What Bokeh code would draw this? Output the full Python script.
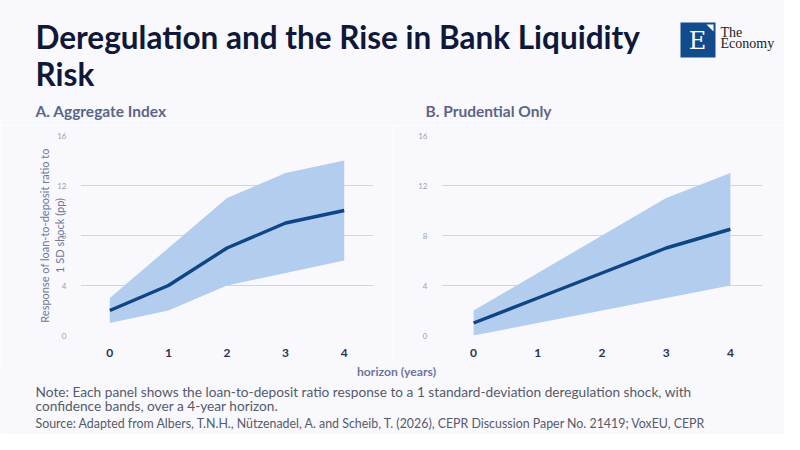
from bokeh.plotting import figure
from bokeh.layouts import column, row
from bokeh.models import Range1d, FixedTicker, ColumnDataSource
from bokeh.core.properties import value
from bokeh.embed import file_html
from bokeh.resources import INLINE

# ---- data ----
horizon = [0, 1, 2, 3, 4]
a_mean = [2, 4, 7, 9, 10]
a_upper = [3, 7, 11, 13, 14]
a_lower = [1, 2, 4, 5, 6]
b_mean = [1, 3, 5, 7, 8.5]
b_upper = [2, 5, 8, 11, 13]
b_lower = [0, 1, 2, 3, 4]
y_ticks = [0, 4, 8, 12, 16]

title_lines = ["Deregulation and the Rise in Bank Liquidity", "Risk"]
panel_titles = ["A. Aggregate Index", "B. Prudential Only"]
y_label = "Response of loan-to-deposit ratio to\n1 SD shock (pp)"
x_label = "horizon (years)"
note_lines = ["Note: Each panel shows the loan-to-deposit ratio response to a 1 standard-deviation deregulation shock, with",
              "confidence bands, over a 4-year horizon."]
source_line = "Source: Adapted from Albers, T.N.H., Nützenadel, A. and Scheib, T. (2026), CEPR Discussion Paper No. 21419; VoxEU, CEPR"

BG = "#f8f8fd"
FONT = "Lato"
TITLE_C = "#0f1838"
SUB_C = "#5b6686"
TICK_C = "#9aa1b9"
GRID_C = "#d0d5e5"
BAND_C = "#b3cdef"
LINE_C = "#0e4584"


def blank(height, y0, y1):
    f = figure(width=784, height=height, x_range=Range1d(0, 784), y_range=Range1d(y1, y0),
               output_backend="svg", toolbar_location=None, min_border=0)
    f.axis.visible = False
    f.grid.visible = False
    f.outline_line_color = None
    f.background_fill_color = BG
    f.border_fill_color = BG
    return f


# ---- header ----
head = blank(125, 0, 125)
head.text(x=[35, 35], y=[36, 73], text=title_lines, text_font=value(FONT), text_font_style="bold",
          text_font_size="31.5px", text_color=TITLE_C, text_baseline="alphabetic")
head.text(x=[35, 425], y=[110, 110], text=panel_titles, text_font=value(FONT), text_font_style="bold",
          text_font_size="15.5px", text_color=SUB_C, text_baseline="alphabetic")
# logo
head.quad(left=[680], right=[715], top=[22], bottom=[57], fill_color="#134a8c", line_color=None)
head.patch(x=[706, 713, 713], y=[24, 24, 31], fill_color="white", line_color=None)
head.text(x=[697], y=[40], text=["E"], text_font=value("DejaVu Serif"), text_font_size="24px",
          text_color="white", text_align="center", text_baseline="alphabetic")
head.text(x=[720, 720], y=[32, 43], text=["The", "Economy"], text_font=value("Liberation Serif"),
          text_font_size="14px", text_color="#222222", text_baseline="alphabetic")


def panel(mean, upper, lower, left, fw, right, ylab):
    p = figure(frame_width=fw, frame_height=200, x_range=Range1d(-0.5, 4.5), y_range=Range1d(0, 16),
               output_backend="svg", toolbar_location=None,
               min_border_left=left, min_border_right=right, min_border_top=10, min_border_bottom=27)
    src = ColumnDataSource(dict(x=horizon, m=mean, u=upper, l=lower))
    p.varea(x="x", y1="l", y2="u", source=src, fill_color=BAND_C, fill_alpha=1.0)
    p.line(x="x", y="m", source=src, line_color=LINE_C, line_width=3.4)
    p.background_fill_color = BG
    p.border_fill_color = BG
    p.outline_line_color = None
    p.xgrid.visible = False
    p.ygrid.grid_line_color = GRID_C
    p.ygrid.grid_line_width = 1
    p.yaxis.ticker = FixedTicker(ticks=y_ticks)
    p.xaxis.ticker = FixedTicker(ticks=horizon)
    for ax in (p.xaxis, p.yaxis):
        ax.axis_line_color = None
        ax.major_tick_line_color = None
        ax.minor_tick_line_color = None
    p.yaxis.major_label_text_font = FONT
    p.yaxis.major_label_text_font_size = "8px"
    p.yaxis.major_label_text_color = TICK_C
    p.yaxis.major_label_standoff = 8
    p.xaxis.major_label_text_font = FONT
    p.xaxis.major_label_text_font_size = "12px"
    p.xaxis.major_label_text_font_style = "bold"
    p.xaxis.major_label_text_color = "#2a3352"
    p.xaxis.major_label_standoff = 7
    if ylab:
        p.yaxis.axis_label = ylab
        p.yaxis.axis_label_text_font = FONT
        p.yaxis.axis_label_text_font_size = "11px"
        p.yaxis.axis_label_text_font_style = "normal"
        p.yaxis.axis_label_text_color = "#6d7797"
        p.yaxis.axis_label_standoff = -12
    return p


pa = panel(a_mean, a_upper, a_lower, 80, 293, 19, y_label)
pb = panel(b_mean, b_upper, b_lower, 49, 321, 22, None)

# ---- footer ----
foot = blank(72, 362, 434)
foot.text(x=[396], y=[371], text=[x_label], text_font=value(FONT), text_font_style="bold",
          text_font_size="12.2px", text_color="#6b7597", text_align="center", text_baseline="alphabetic")
foot.text(x=[35, 35], y=[391, 405], text=note_lines, text_font=value(FONT), text_font_size="13.7px",
          text_color="#555b68", text_baseline="alphabetic")
foot.text(x=[35], y=[423], text=[source_line], text_font=value(FONT), text_font_size="12.4px",
          text_color="#555b68", text_baseline="alphabetic")

layout = column(head, row(pa, pb, spacing=0), foot, spacing=0)

open("out.html", "w").write(file_html(layout, INLINE))
